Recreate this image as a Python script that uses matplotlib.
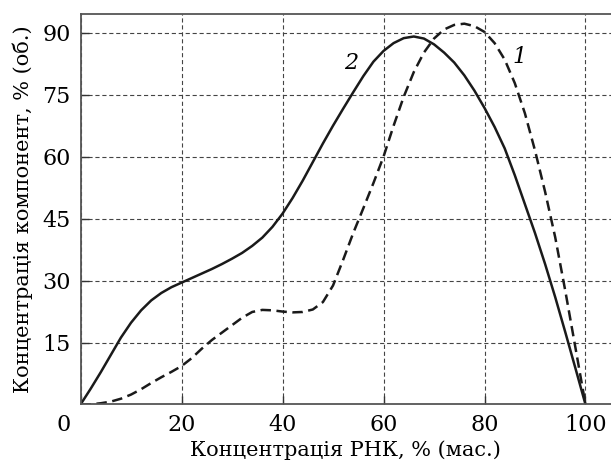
import matplotlib
matplotlib.use("Agg")
import matplotlib.pyplot as plt
from matplotlib.transforms import ScaledTranslation

plt.rcParams['font.family'] = ['DejaVu Serif']
plt.rcParams['lines.scale_dashes'] = False

# x grid of the readings (same for both curves)
conc_rna = [0, 2, 4, 6, 8, 10, 12, 14, 16, 18, 20, 22, 24, 26, 28, 30, 32, 34, 36, 38,
            40, 42, 44, 46, 48, 50, 52, 54, 56, 58, 60, 62, 64, 66, 68, 70, 72, 74, 76,
            78, 80, 82, 84, 86, 88, 90, 92, 94, 96, 98, 100]

# curve 2 (solid)
curve2 = [0, 3.8, 7.8, 12, 16.2, 19.8, 22.8, 25.2, 27, 28.4, 29.5, 30.6, 31.7, 32.8,
          34, 35.3, 36.7, 38.4, 40.4, 43, 46.2, 50, 54.2, 58.7, 63.2, 67.5, 71.6,
          75.6, 79.5, 83, 85.6, 87.5, 88.7, 89.1, 88.6, 87.2, 85.2, 82.8, 79.7, 76,
          71.8, 67.2, 62, 55.5, 48.5, 41.5, 34, 26, 17.5, 8.8, 0]

# curve 1 (dashed)
curve1 = [0, 0.05, 0.3, 0.7, 1.4, 2.4, 3.7, 5.2, 6.6, 7.9, 9.3, 11.2, 13.5, 15.6,
          17.4, 19.2, 21, 22.4, 22.9, 22.8, 22.5, 22.3, 22.4, 23, 24.8, 28.8, 35,
          41.5, 47.5, 53.6, 60, 67.5, 74.5, 80.5, 85.2, 88.6, 90.8, 91.9, 92.2, 91.6,
          90.2, 87.5, 83.5, 77.8, 70.5, 61.5, 51.5, 40.5, 27.5, 13.8, 0]

xticks = [0, 20, 40, 60, 80, 100]
yticks = [15, 30, 45, 60, 75, 90]

fig = plt.figure(figsize=(6.11, 4.66), dpi=100)
ax = fig.add_axes([0.1318, 0.132, 0.8682, 0.838])

ax.plot(conc_rna, curve2, color='#1a1a1a', lw=1.8, solid_joinstyle='round')
ax.plot(conc_rna, curve1, color='#1a1a1a', lw=1.8, dashes=[7.5, 4])

ax.text(53.5, 82.6, '2', fontsize=16, style='italic', ha='center', va='center')
ax.text(87, 84.2, '1', fontsize=16, style='italic', ha='center', va='center')

ax.set_xlim(0, 105.05)
ax.set_ylim(0, 94.55)
ax.set_xticks(xticks)
ax.set_yticks(yticks)
ax.tick_params(direction='in', length=6, width=1, color='#333333',
               labelsize=16, pad=7)
ax.grid(True, color='#444444', lw=0.8, linestyle=(0, (3, 2)))

# the "0" corner label sits left of the axis
lab0 = ax.get_xticklabels()[0]
lab0.set_transform(lab0.get_transform() + ScaledTranslation(-17/100, 0, fig.dpi_scale_trans))

for s in ['left', 'bottom', 'top']:
    ax.spines[s].set_color('#555555')
    ax.spines[s].set_linewidth(1.3)
ax.spines['right'].set_visible(False)

ax.set_xlabel('Концентрація РНК, % (мас.)', fontsize=15, labelpad=3)
ax.set_ylabel('Концентрація компонент, % (об.)', fontsize=15, labelpad=7)

fig.savefig('out.png', dpi=100)
